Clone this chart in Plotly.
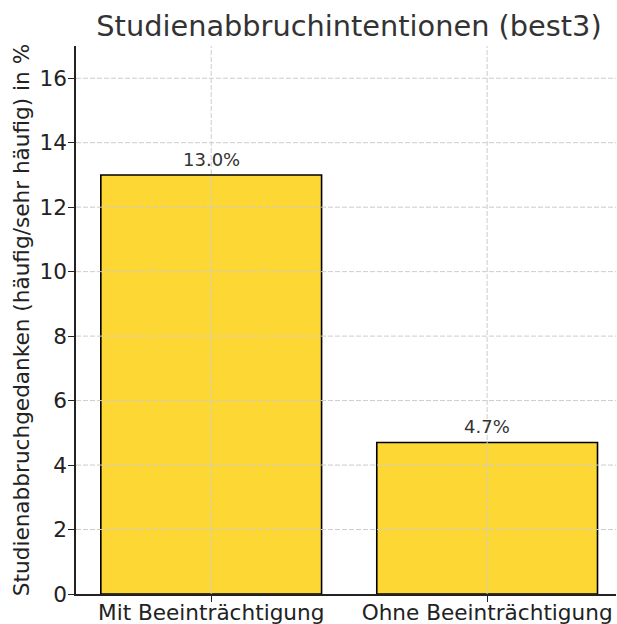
import plotly.graph_objects as go

categories = ["Mit Beeinträchtigung", "Ohne Beeinträchtigung"]
values = [13.0, 4.7]
labels = ["13.0%", "4.7%"]
y_ticks = [0, 2, 4, 6, 8, 10, 12, 14, 16]

FONT = "DejaVu Sans"
xpos = list(range(len(categories)))

fig = go.Figure()
fig.add_trace(go.Bar(
    x=xpos, y=values, width=0.8,
    marker=dict(color="#FDD835", line=dict(color="#000000", width=1.6)),
    hoverinfo="skip",
))

for xi, v, t in zip(xpos, values, labels):
    fig.add_annotation(x=xi, y=v, text=t, showarrow=False, yanchor="bottom",
                       yshift=3, font=dict(family=FONT, size=18, color="#333333"))

grid = dict(color="#cccccc", width=1, dash="5px,2px")
for yt in y_ticks[1:]:
    fig.add_shape(type="line", xref="paper", yref="y", x0=0, x1=1, y0=yt, y1=yt,
                  line=grid, layer="above")
for xi in xpos:
    fig.add_shape(type="line", xref="x", yref="paper", x0=xi, x1=xi, y0=0, y1=1,
                  line=grid, layer="above")

fig.update_layout(
    width=617, height=624,
    margin=dict(l=76, r=1, t=46, b=30, autoexpand=False),
    paper_bgcolor="white", plot_bgcolor="white",
    showlegend=False,
    title=dict(text="Studienabbruchintentionen (best3)", x=349 / 617,
               xanchor="center", y=1 - 26 / 624, yanchor="middle",
               font=dict(family=FONT, size=28.8, color="#333333")),
    font=dict(family=FONT, color="#222222"),
)
fig.update_xaxes(
    range=[-0.49, 1.467], tickvals=xpos, ticktext=categories,
    showgrid=False, zeroline=False,
    showline=True, linecolor="#222222", linewidth=1.5,
    ticks="outside", ticklen=6, tickcolor="#222222",
    ticklabelstandoff=-8,
    tickfont=dict(family=FONT, size=21.6, color="#222222"),
    fixedrange=True,
)
fig.update_yaxes(
    range=[0, 17], tickvals=y_ticks,
    showgrid=False, zeroline=False,
    showline=True, linecolor="#222222", linewidth=1.5,
    ticks="outside", ticklen=6, tickcolor="#222222",
    ticklabelstandoff=-3,
    tickfont=dict(family=FONT, size=21.6, color="#222222"),
    title=dict(text="Studienabbruchgedanken (häufig/sehr häufig) in %",
               font=dict(family=FONT, size=21.6, color="#222222"), standoff=4),
    fixedrange=True,
)

fig.write_html("out.html", config={"displayModeBar": False},
               post_script="document.body.style.margin='0';document.body.style.overflow='hidden';")
